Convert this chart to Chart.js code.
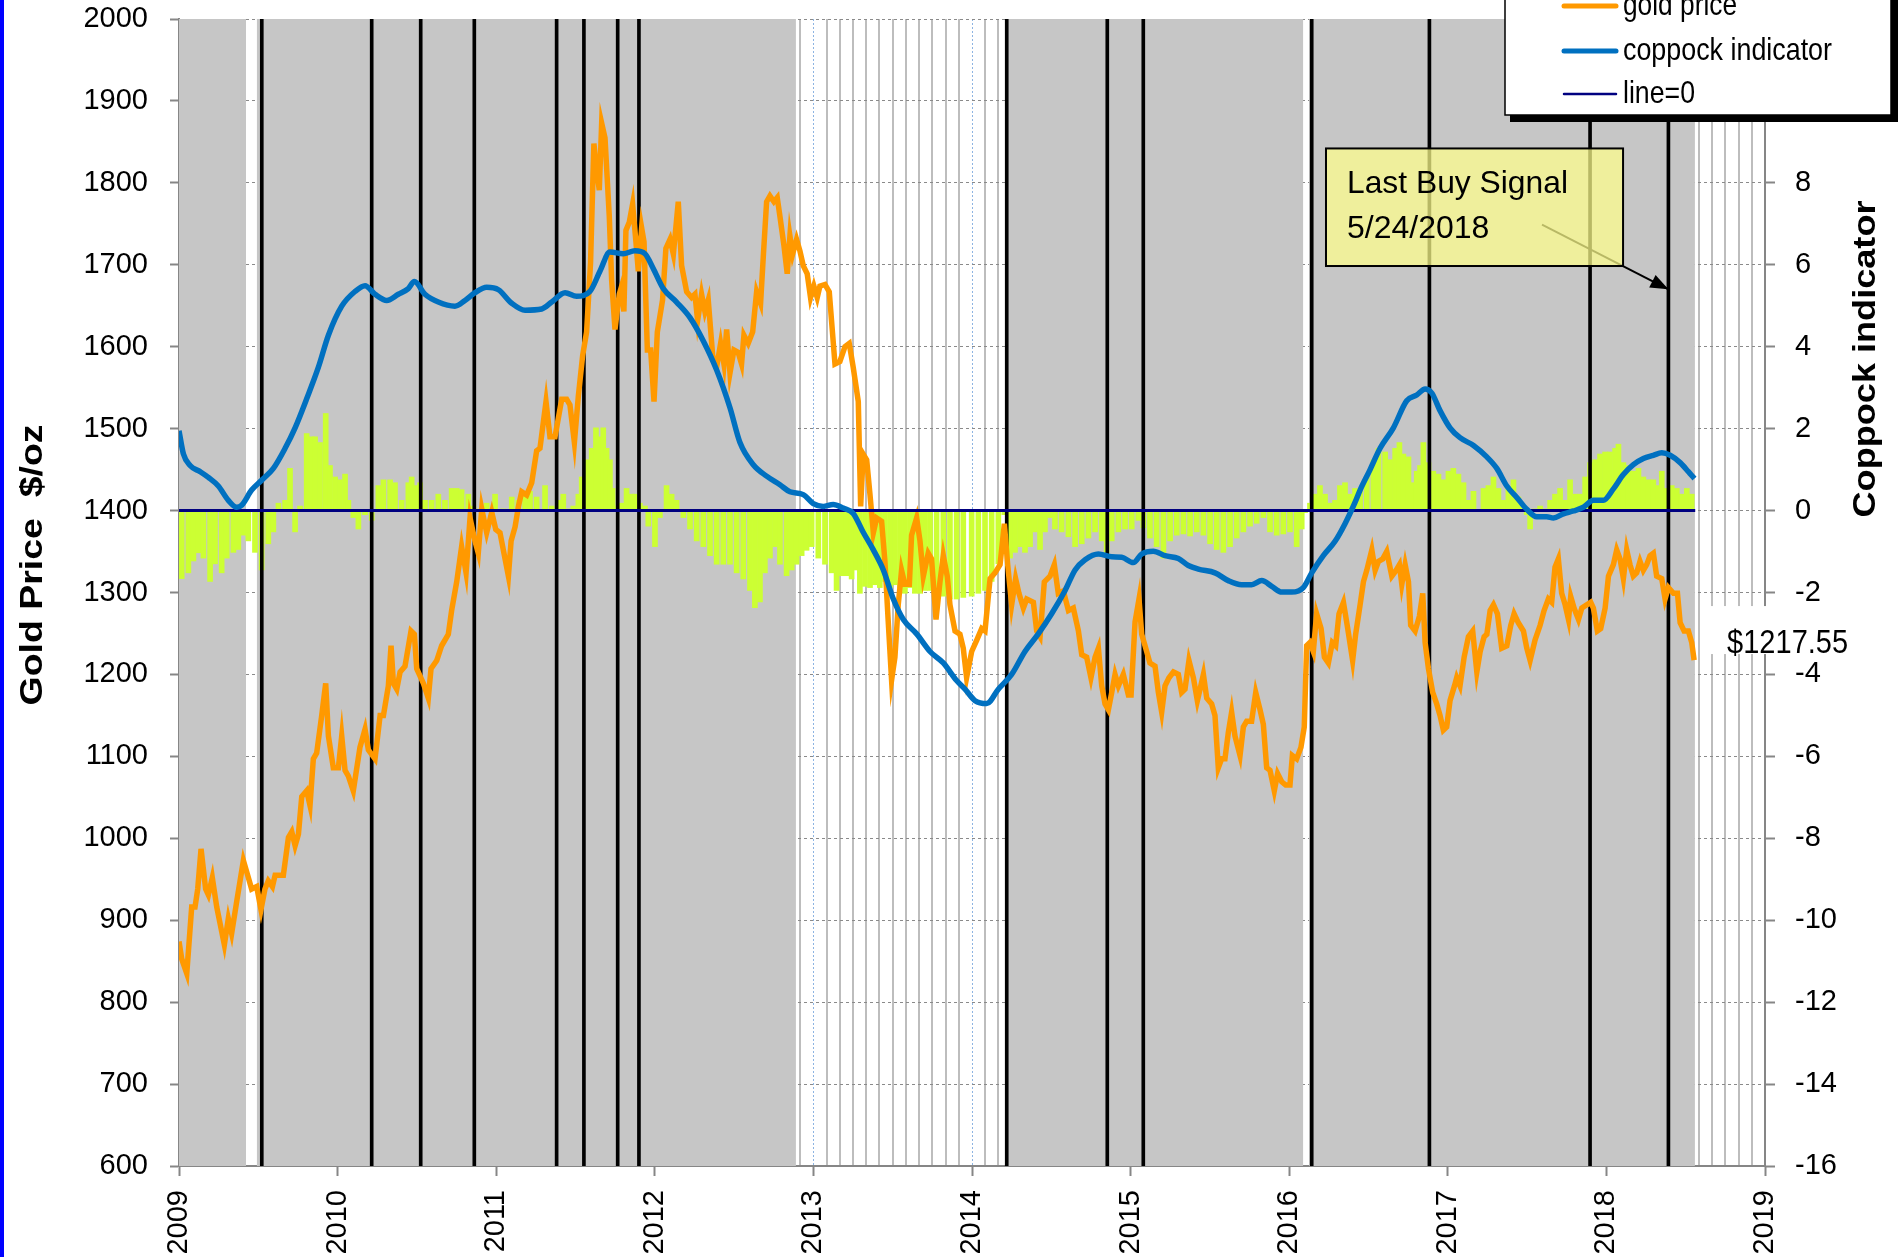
<!DOCTYPE html>
<html lang="en">
<head>
<meta charset="utf-8">
<title>Gold price and Coppock indicator</title>
<script src="https://cdn.jsdelivr.net/npm/chart.js@4.4.1/dist/chart.umd.min.js"></script>
<style>
  html, body { margin: 0; padding: 0; background: #ffffff; overflow: hidden; }
  canvas { display: block; }
</style>
</head>
<body>
<canvas id="goldChart" width="1898" height="1257"></canvas>
<script>
// gold price, $/oz (decimal year / price)
const goldDates = [
  2009.000, 2009.017, 2009.049, 2009.080, 2009.101, 2009.118, 2009.139, 2009.168,
  2009.185, 2009.210, 2009.238, 2009.286, 2009.311, 2009.332, 2009.364, 2009.406,
  2009.433, 2009.458, 2009.490, 2009.517, 2009.542, 2009.563, 2009.589, 2009.606,
  2009.658, 2009.690, 2009.711, 2009.732, 2009.753, 2009.774, 2009.805, 2009.826,
  2009.847, 2009.868, 2009.900, 2009.925, 2009.942, 2009.973, 2010.005, 2010.026,
  2010.047, 2010.068, 2010.099, 2010.141, 2010.173, 2010.194, 2010.236, 2010.268,
  2010.289, 2010.320, 2010.337, 2010.352, 2010.373, 2010.394, 2010.425, 2010.463,
  2010.484, 2010.499, 2010.541, 2010.572, 2010.589, 2010.625, 2010.656, 2010.698,
  2010.719, 2010.751, 2010.782, 2010.810, 2010.835, 2010.866, 2010.887, 2010.909,
  2010.940, 2010.972, 2010.997, 2011.024, 2011.056, 2011.077, 2011.094, 2011.119,
  2011.140, 2011.161, 2011.192, 2011.224, 2011.255, 2011.276, 2011.314, 2011.339,
  2011.371, 2011.413, 2011.444, 2011.465, 2011.493, 2011.518, 2011.545, 2011.570,
  2011.595, 2011.616, 2011.633, 2011.650, 2011.665, 2011.686, 2011.713, 2011.728,
  2011.749, 2011.776, 2011.791, 2011.805, 2011.818, 2011.839, 2011.860, 2011.881,
  2011.896, 2011.917, 2011.932, 2011.953, 2011.974, 2011.995, 2012.016, 2012.049,
  2012.070, 2012.096, 2012.117, 2012.148, 2012.169, 2012.201, 2012.232, 2012.253,
  2012.270, 2012.295, 2012.316, 2012.337, 2012.365, 2012.390, 2012.415, 2012.436,
  2012.453, 2012.474, 2012.499, 2012.526, 2012.547, 2012.562, 2012.589, 2012.617,
  2012.642, 2012.667, 2012.684, 2012.705, 2012.726, 2012.751, 2012.772, 2012.789,
  2012.814, 2012.835, 2012.852, 2012.869, 2012.894, 2012.915, 2012.936, 2012.961,
  2012.982, 2013.003, 2013.024, 2013.041, 2013.073, 2013.100, 2013.136, 2013.167,
  2013.199, 2013.226, 2013.251, 2013.283, 2013.298, 2013.314, 2013.336, 2013.357,
  2013.378, 2013.399, 2013.430, 2013.451, 2013.472, 2013.493, 2013.514, 2013.535,
  2013.556, 2013.577, 2013.605, 2013.619, 2013.651, 2013.672, 2013.693, 2013.724,
  2013.745, 2013.773, 2013.798, 2013.819, 2013.844, 2013.861, 2013.893, 2013.924,
  2013.945, 2013.966, 2013.998, 2014.030, 2014.061, 2014.082, 2014.114, 2014.145,
  2014.177, 2014.204, 2014.225, 2014.250, 2014.275, 2014.296, 2014.324, 2014.345,
  2014.387, 2014.408, 2014.429, 2014.456, 2014.492, 2014.519, 2014.544, 2014.576,
  2014.608, 2014.639, 2014.671, 2014.692, 2014.723, 2014.750, 2014.776, 2014.797,
  2014.818, 2014.839, 2014.860, 2014.881, 2014.902, 2014.923, 2014.954, 2014.986,
  2015.003, 2015.028, 2015.053, 2015.070, 2015.091, 2015.122, 2015.154, 2015.175,
  2015.196, 2015.217, 2015.242, 2015.270, 2015.301, 2015.322, 2015.343, 2015.368,
  2015.396, 2015.421, 2015.438, 2015.459, 2015.480, 2015.511, 2015.532, 2015.553,
  2015.574, 2015.595, 2015.616, 2015.637, 2015.658, 2015.690, 2015.711, 2015.732,
  2015.763, 2015.789, 2015.816, 2015.837, 2015.858, 2015.879, 2015.906, 2015.927,
  2015.953, 2015.978, 2016.005, 2016.020, 2016.047, 2016.074, 2016.095, 2016.110,
  2016.131, 2016.152, 2016.173, 2016.201, 2016.222, 2016.247, 2016.272, 2016.293,
  2016.314, 2016.342, 2016.369, 2016.400, 2016.419, 2016.447, 2016.468, 2016.489,
  2016.521, 2016.542, 2016.563, 2016.590, 2016.615, 2016.647, 2016.674, 2016.695,
  2016.710, 2016.731, 2016.752, 2016.766, 2016.794, 2016.821, 2016.842, 2016.857,
  2016.878, 2016.905, 2016.930, 2016.951, 2016.972, 2016.993, 2017.014, 2017.042,
  2017.056, 2017.077, 2017.103, 2017.130, 2017.157, 2017.183, 2017.204, 2017.229,
  2017.246, 2017.267, 2017.288, 2017.313, 2017.340, 2017.372, 2017.397, 2017.418,
  2017.445, 2017.477, 2017.498, 2017.519, 2017.550, 2017.582, 2017.607, 2017.634,
  2017.655, 2017.676, 2017.697, 2017.718, 2017.740, 2017.761, 2017.775, 2017.796,
  2017.824, 2017.845, 2017.876, 2017.901, 2017.918, 2017.943, 2017.964, 2017.992,
  2018.013, 2018.044, 2018.065, 2018.086, 2018.107, 2018.128, 2018.149, 2018.170,
  2018.191, 2018.212, 2018.233, 2018.254, 2018.275, 2018.296, 2018.317, 2018.349,
  2018.370, 2018.391, 2018.423, 2018.448, 2018.465, 2018.490, 2018.517, 2018.538,
  2018.553
];
const goldPrices = [
  874, 853, 835, 916, 916, 938, 987, 938,
  931, 952, 916, 870, 902, 884, 923, 973,
  955, 938, 941, 913, 938, 948, 941, 955,
  955, 1001, 1008, 991, 1005, 1051, 1058, 1040,
  1097, 1104, 1150, 1189, 1125, 1086, 1086, 1125,
  1083, 1076, 1058, 1111, 1133, 1108, 1097, 1150,
  1150, 1186, 1235, 1189, 1182, 1203, 1210, 1253,
  1249, 1207, 1189, 1171, 1207, 1217, 1235, 1249,
  1278, 1313, 1356, 1324, 1391, 1363, 1348, 1402,
  1373, 1398, 1377, 1373, 1341, 1320, 1363, 1380,
  1405, 1423, 1419, 1434, 1473, 1476, 1533, 1490,
  1490, 1536, 1536, 1529, 1483, 1540, 1589, 1618,
  1703, 1848, 1816, 1791, 1873, 1855, 1759, 1681,
  1621, 1664, 1674, 1643, 1742, 1752, 1774, 1728,
  1692, 1745, 1728, 1596, 1596, 1533, 1618, 1657,
  1720, 1731, 1713, 1777, 1699, 1667, 1660, 1664,
  1632, 1664, 1643, 1657, 1589, 1575, 1604, 1579,
  1621, 1568, 1596, 1593, 1579, 1614, 1604, 1618,
  1667, 1653, 1710, 1777, 1784, 1777, 1782, 1759,
  1724, 1689, 1735, 1713, 1731, 1717, 1699, 1689,
  1660, 1674, 1660, 1674, 1676, 1667, 1579, 1582,
  1600, 1604, 1575, 1533, 1405, 1469, 1462, 1419,
  1373, 1391, 1387, 1338, 1264, 1193, 1221, 1285,
  1327, 1310, 1310, 1370, 1391, 1363, 1320, 1348,
  1341, 1267, 1313, 1345, 1320, 1285, 1253, 1249,
  1232, 1196, 1228, 1242, 1256, 1253, 1317, 1324,
  1334, 1384, 1334, 1285, 1317, 1299, 1281, 1292,
  1288, 1253, 1246, 1313, 1320, 1334, 1299, 1302,
  1278, 1281, 1253, 1224, 1221, 1196, 1221, 1232,
  1186, 1164, 1157, 1178, 1200, 1186, 1200, 1175,
  1175, 1264, 1292, 1249, 1235, 1214, 1210, 1178,
  1154, 1186, 1196, 1203, 1200, 1178, 1182, 1217,
  1196, 1168, 1182, 1200, 1171, 1164, 1150, 1086,
  1097, 1097, 1129, 1154, 1125, 1101, 1136, 1143,
  1143, 1178, 1157, 1139, 1086, 1083, 1058, 1079,
  1069, 1065, 1065, 1101, 1097, 1111, 1136, 1235,
  1239, 1228, 1274, 1256, 1221, 1214, 1239, 1235,
  1274, 1288, 1256, 1217, 1249, 1285, 1313, 1327,
  1352, 1327, 1338, 1341, 1350, 1320, 1327, 1334,
  1310, 1334, 1313, 1260, 1253, 1271, 1299, 1239,
  1207, 1178, 1164, 1150, 1132, 1136, 1168, 1186,
  1196, 1186, 1221, 1246, 1253, 1203, 1228, 1246,
  1249, 1278, 1285, 1274, 1232, 1235, 1260, 1274,
  1263, 1253, 1232, 1217, 1242, 1260, 1278, 1292,
  1288, 1331, 1341, 1299, 1285, 1267, 1295, 1281,
  1267, 1281, 1285, 1288, 1281, 1253, 1256, 1281,
  1320, 1334, 1352, 1341, 1317, 1352, 1334, 1320,
  1324, 1338, 1327, 1334, 1345, 1348, 1320, 1317,
  1292, 1306, 1299, 1299, 1263, 1253, 1253, 1239,
  1217.55
];

// coppock indicator (right axis)
const coppockDates = [
  2009.000, 2009.028, 2009.070, 2009.133, 2009.185, 2009.248, 2009.311, 2009.364,
  2009.395, 2009.458, 2009.521, 2009.595, 2009.669, 2009.732, 2009.805, 2009.879,
  2009.942, 2010.026, 2010.110, 2010.173, 2010.236, 2010.310, 2010.383, 2010.446,
  2010.484, 2010.551, 2010.635, 2010.740, 2010.803, 2010.866, 2010.940, 2011.014,
  2011.098, 2011.182, 2011.287, 2011.350, 2011.434, 2011.507, 2011.591, 2011.654,
  2011.717, 2011.801, 2011.875, 2011.938, 2011.990, 2012.053, 2012.137, 2012.222,
  2012.306, 2012.390, 2012.474, 2012.537, 2012.621, 2012.705, 2012.789, 2012.852,
  2012.936, 2012.999, 2013.062, 2013.125, 2013.188, 2013.251, 2013.314, 2013.378,
  2013.441, 2013.504, 2013.567, 2013.651, 2013.735, 2013.819, 2013.903, 2013.956,
  2014.019, 2014.093, 2014.166, 2014.250, 2014.334, 2014.418, 2014.502, 2014.587,
  2014.650, 2014.713, 2014.797, 2014.881, 2014.944, 2015.017, 2015.070, 2015.143,
  2015.217, 2015.301, 2015.364, 2015.427, 2015.532, 2015.616, 2015.700, 2015.763,
  2015.827, 2015.890, 2015.953, 2016.016, 2016.089, 2016.142, 2016.215, 2016.289,
  2016.352, 2016.415, 2016.447, 2016.510, 2016.573, 2016.657, 2016.741, 2016.804,
  2016.857, 2016.899, 2016.951, 2017.014, 2017.077, 2017.162, 2017.246, 2017.309,
  2017.372, 2017.435, 2017.498, 2017.561, 2017.624, 2017.666, 2017.729, 2017.792,
  2017.855, 2017.918, 2017.981, 2018.044, 2018.107, 2018.170, 2018.233, 2018.296,
  2018.349, 2018.402, 2018.465, 2018.517, 2018.555
];
const coppockValues = [
  1.95, 1.38, 1.10, 0.95, 0.81, 0.60, 0.25, 0.08,
  0.13, 0.50, 0.74, 1.03, 1.52, 2.02, 2.73, 3.50,
  4.28, 4.99, 5.35, 5.49, 5.28, 5.13, 5.28, 5.42,
  5.59, 5.28, 5.09, 4.99, 5.13, 5.32, 5.45, 5.39,
  5.06, 4.89, 4.92, 5.09, 5.32, 5.23, 5.35, 5.84,
  6.31, 6.27, 6.34, 6.27, 5.91, 5.42, 5.09, 4.71,
  4.14, 3.43, 2.51, 1.66, 1.12, 0.84, 0.63, 0.46,
  0.39, 0.17, 0.10, 0.15, 0.06, -0.07, -0.53, -0.96,
  -1.45, -2.16, -2.66, -3.01, -3.44, -3.72, -4.15, -4.36,
  -4.64, -4.71, -4.36, -4.00, -3.44, -3.01, -2.52, -1.95,
  -1.45, -1.20, -1.06, -1.13, -1.14, -1.27, -1.06, -0.99,
  -1.10, -1.17, -1.34, -1.43, -1.52, -1.71, -1.81, -1.81,
  -1.71, -1.85, -1.99, -1.99, -1.88, -1.52, -1.10, -0.75,
  -0.32, 0.20, 0.50, 1.00, 1.52, 2.02, 2.68, 2.82,
  2.97, 2.87, 2.44, 2.02, 1.78, 1.59, 1.31, 1.03,
  0.60, 0.32, 0.03, -0.15, -0.15, -0.18, -0.08, -0.01,
  0.08, 0.25, 0.25, 0.53, 0.88, 1.12, 1.27, 1.35,
  1.41, 1.35, 1.17, 0.95, 0.78
];

// weekly change histogram (green bars), coppock units
const momentumDates = [
  2009.017, 2009.059, 2009.091, 2009.122, 2009.154, 2009.196, 2009.227, 2009.269,
  2009.301, 2009.343, 2009.374, 2009.406, 2009.437, 2009.479, 2009.521, 2009.563,
  2009.595, 2009.627, 2009.669, 2009.700, 2009.732, 2009.763, 2009.805, 2009.837,
  2009.858, 2009.889, 2009.925, 2009.952, 2009.984, 2010.015, 2010.047, 2010.068,
  2010.099, 2010.131, 2010.173, 2010.215, 2010.257, 2010.289, 2010.331, 2010.362,
  2010.404, 2010.446, 2010.467, 2010.488, 2010.520, 2010.551, 2010.593, 2010.635,
  2010.677, 2010.719, 2010.751, 2010.782, 2010.824, 2010.856, 2010.898, 2010.940,
  2010.993, 2011.045, 2011.098, 2011.140, 2011.182, 2011.213, 2011.255, 2011.308,
  2011.350, 2011.392, 2011.423, 2011.455, 2011.486, 2011.518, 2011.539, 2011.570,
  2011.602, 2011.629, 2011.654, 2011.675, 2011.696, 2011.717, 2011.734, 2011.759,
  2011.791, 2011.822, 2011.854, 2011.875, 2011.906, 2011.938, 2011.959, 2012.001,
  2012.032, 2012.074, 2012.106, 2012.137, 2012.180, 2012.222, 2012.264, 2012.306,
  2012.348, 2012.390, 2012.432, 2012.474, 2012.516, 2012.558, 2012.600, 2012.631,
  2012.663, 2012.694, 2012.726, 2012.758, 2012.789, 2012.831, 2012.863, 2012.894,
  2012.926, 2012.957, 2012.989, 2013.031, 2013.073, 2013.115, 2013.146, 2013.178,
  2013.209, 2013.241, 2013.272, 2013.293, 2013.325, 2013.357, 2013.388, 2013.419,
  2013.451, 2013.483, 2013.514, 2013.546, 2013.577, 2013.609, 2013.640, 2013.672,
  2013.703, 2013.735, 2013.777, 2013.819, 2013.861, 2013.903, 2013.945, 2013.998,
  2014.040, 2014.082, 2014.124, 2014.166, 2014.204, 2014.240, 2014.271, 2014.303,
  2014.334, 2014.366, 2014.397, 2014.429, 2014.460, 2014.492, 2014.523, 2014.565,
  2014.608, 2014.650, 2014.692, 2014.734, 2014.776, 2014.818, 2014.849, 2014.881,
  2014.923, 2014.965, 2015.007, 2015.049, 2015.080, 2015.122, 2015.164, 2015.207,
  2015.249, 2015.291, 2015.333, 2015.375, 2015.417, 2015.459, 2015.501, 2015.543,
  2015.585, 2015.627, 2015.669, 2015.711, 2015.753, 2015.795, 2015.837, 2015.879,
  2015.921, 2015.963, 2016.005, 2016.047, 2016.079, 2016.100, 2016.131, 2016.163,
  2016.194, 2016.226, 2016.257, 2016.289, 2016.320, 2016.352, 2016.384, 2016.415,
  2016.447, 2016.489, 2016.531, 2016.563, 2016.605, 2016.636, 2016.668, 2016.695,
  2016.720, 2016.752, 2016.779, 2016.804, 2016.825, 2016.846, 2016.878, 2016.909,
  2016.941, 2016.972, 2017.004, 2017.035, 2017.067, 2017.099, 2017.130, 2017.162,
  2017.193, 2017.225, 2017.256, 2017.288, 2017.319, 2017.351, 2017.382, 2017.414,
  2017.445, 2017.477, 2017.498, 2017.519, 2017.550, 2017.582, 2017.613, 2017.645,
  2017.676, 2017.708, 2017.740, 2017.771, 2017.803, 2017.834, 2017.866, 2017.897,
  2017.929, 2017.960, 2017.992, 2018.023, 2018.055, 2018.076, 2018.107, 2018.139,
  2018.170, 2018.202, 2018.233, 2018.265, 2018.296, 2018.328, 2018.349, 2018.380,
  2018.412, 2018.444, 2018.475, 2018.507, 2018.538
];
const momentumValues = [
  -1.66, -1.52, -1.23, -1.03, -1.16, -1.73, -1.30, -1.52,
  -1.16, -1.02, -0.95, -0.60, -0.74, -1.02, -1.45, -0.81,
  -0.52, 0.18, 0.25, 1.03, -0.52, 0.11, 1.88, 1.80,
  1.80, 1.66, 2.37, 1.10, 0.82, 0.75, 0.89, 0.25,
  -0.17, -0.45, -0.10, -0.24, 0.61, 0.75, 0.75, 0.68,
  0.25, 0.68, 0.82, 0.61, 0.68, 0.25, 0.25, 0.40,
  0.25, 0.54, 0.54, 0.51, 0.40, 0.11, 0.04, 0.18,
  0.40, 0.04, 0.33, 0.25, 0.40, 0.47, 0.33, 0.61,
  0.11, 0.25, 0.40, 0.04, 0.11, 0.40, 0.82, 1.24,
  1.52, 2.02, 1.80, 2.02, 1.52, 1.24, 0.54, 0.11,
  0.18, 0.54, 0.40, 0.40, 0.18, 0.11, -0.38, -0.88,
  -0.17, 0.61, 0.40, 0.25, -0.17, -0.45, -0.74, -0.88,
  -1.10, -1.31, -1.31, -1.31, -1.52, -1.67, -1.95, -2.37,
  -2.23, -1.52, -1.16, -0.88, -1.31, -1.59, -1.45, -1.31,
  -1.10, -0.97, -0.88, -1.16, -1.31, -1.52, -1.95, -1.59,
  -1.59, -1.67, -1.45, -2.02, -1.85, -1.88, -1.81, -1.88,
  -1.73, -1.88, -1.81, -1.88, -2.02, -1.88, -2.02, -2.02,
  -1.95, -1.95, -2.02, -2.09, -2.16, -2.16, -2.12, -2.09,
  -2.02, -1.95, -1.73, -1.30, -0.10, -1.16, -1.02, -0.88,
  -1.02, -0.88, -0.52, -0.95, -0.52, -0.17, -0.45, -0.52,
  -0.64, -0.88, -0.81, -0.67, -0.52, -0.74, -1.02, -0.74,
  -0.52, -0.45, -0.45, -0.24, -0.42, -0.67, -0.88, -1.16,
  -0.74, -0.60, -0.57, -0.62, -0.52, -0.60, -0.81, -0.95,
  -1.02, -0.88, -0.67, -0.52, -0.38, -0.31, -0.17, -0.52,
  -0.60, -0.57, -0.52, -0.88, -0.45, -0.05, 0.18, 0.40,
  0.61, 0.40, 0.18, 0.25, 0.61, 0.68, 0.40, 0.54,
  0.50, 0.81, 1.24, 1.52, 1.43, 1.24, 1.52, 1.66,
  1.38, 1.31, 0.68, 0.96, 1.10, 1.66, 1.17, 0.96,
  0.89, 0.75, 0.96, 1.03, 0.89, 0.68, 0.25, 0.47,
  0.02, 0.54, 0.61, 0.82, 0.54, 0.25, 0.54, 0.75,
  0.33, 0.11, -0.10, -0.45, 0.04, 0.11, 0.04, 0.25,
  0.40, 0.54, 0.25, 0.75, 0.40, 0.40, 0.82, 1.17,
  1.24, 1.38, 1.43, 1.43, 1.52, 1.62, 1.17, 1.10,
  0.96, 1.03, 0.82, 0.75, 0.75, 0.61, 0.96, 0.54,
  0.61, 0.54, 0.40, 0.54, 0.40
];

// buy / sell signal dates (black verticals)
const signalDates = [
  2009.522, 2010.215, 2010.524, 2010.862, 2011.381, 2011.553, 2011.766, 2011.900,
  2014.219, 2014.853, 2015.080, 2016.142, 2016.884, 2017.897, 2018.391
];

// periods shaded grey
const holdPeriods = [
  [2009.000, 2009.423], [2009.490, 2012.890], [2014.208, 2016.089], [2016.125, 2018.558]
];

const yearTicks = [2009, 2010, 2011, 2012, 2013, 2014, 2015, 2016, 2017, 2018, 2019];
const goldTicks = [600, 700, 800, 900, 1000, 1100, 1200, 1300, 1400, 1500, 1600, 1700, 1800, 1900, 2000];
const coppockTicks = [-16, -14, -12, -10, -8, -6, -4, -2, 0, 2, 4, 6, 8, 10, 12];
const zeroLineSpan = [2009.0, 2018.56];
const lastPrice = 1217.55;

// monthly grid positions
const monthLines = [];
for (let m = 0; m <= 120; m++) monthLines.push(2009 + m / 12);

// annotation box, in data units
const note = {
  lines: ['Last Buy Signal', '5/24/2018'],
  left: 2016.232, right: 2018.105, top: 1842, bottom: 1698.5,
  tail: [2017.594, 1749], tip: [2018.391, 1670]
};

function fontExists(name) {
  const c = document.createElement('canvas').getContext('2d');
  c.font = '40px monospace';
  const base = c.measureText('2000 coppock').width;
  c.font = '40px "' + name + '", monospace';
  return c.measureText('2000 coppock').width !== base;
}
const hasNarrow = fontExists('Liberation Sans Narrow');
const tickFont = hasNarrow
  ? { family: '"Liberation Sans Narrow", "Liberation Sans", Arial, sans-serif', size: 33 }
  : { family: '"Liberation Sans", Arial, sans-serif', size: 29 };
const textFamily = '"Liberation Sans", Arial, sans-serif';

const pts = (xs, ys) => xs.map((x, i) => ({ x: x, y: ys[i] }));

const greySets = holdPeriods.map(p => ({
  type: 'line',
  data: [{ x: p[0], y: 2000 }, { x: p[1], y: 2000 }],
  yAxisID: 'y',
  borderWidth: 0,
  pointRadius: 0,
  fill: 'start',
  backgroundColor: '#c6c6c6',
  order: 10
}));

// vertical axis title stretched or squeezed to a given length
function rotatedTitle(ctx, text, cx, cy, length) {
  ctx.save();
  ctx.translate(cx, cy);
  ctx.rotate(-Math.PI / 2);
  const w = ctx.measureText(text).width;
  ctx.scale(length / w, 1);
  ctx.fillText(text, 0, 0);
  ctx.restore();
}

const overlay = {
  id: 'overlay',
  afterDraw(chart) {
    const ctx = chart.ctx;
    const xs = chart.scales.x, ys = chart.scales.y;
    ctx.save();

    // left frame edge
    ctx.fillStyle = '#0000ff';
    ctx.fillRect(0, 0, 4, chart.height);

    // axis titles
    ctx.fillStyle = '#000';
    ctx.font = 'bold 31px ' + textFamily;
    ctx.textAlign = 'center';
    ctx.textBaseline = 'middle';
    rotatedTitle(ctx, 'Gold Price  $/oz', 33, 565, 281);
    rotatedTitle(ctx, 'Coppock indicator', 1866, 359, 317);

    // arrow to the last signal
    const tx = xs.getPixelForValue(note.tail[0]), ty = ys.getPixelForValue(note.tail[1]);
    const hx = xs.getPixelForValue(note.tip[0]), hy = ys.getPixelForValue(note.tip[1]);
    ctx.strokeStyle = '#000';
    ctx.lineWidth = 2;
    ctx.beginPath(); ctx.moveTo(tx, ty); ctx.lineTo(hx, hy); ctx.stroke();
    const a = Math.atan2(hy - ty, hx - tx);
    ctx.beginPath();
    ctx.moveTo(hx, hy);
    ctx.lineTo(hx - 18 * Math.cos(a) + 7 * Math.sin(a), hy - 18 * Math.sin(a) - 7 * Math.cos(a));
    ctx.lineTo(hx - 18 * Math.cos(a) - 7 * Math.sin(a), hy - 18 * Math.sin(a) + 7 * Math.cos(a));
    ctx.closePath();
    ctx.fillStyle = '#000';
    ctx.fill();

    // note box
    const bl = xs.getPixelForValue(note.left), br = xs.getPixelForValue(note.right);
    const bt = ys.getPixelForValue(note.top), bb = ys.getPixelForValue(note.bottom);
    ctx.fillStyle = 'rgba(255,255,140,0.72)';
    ctx.fillRect(bl, bt, br - bl, bb - bt);
    ctx.strokeRect(bl, bt, br - bl, bb - bt);
    ctx.fillStyle = '#000';
    ctx.font = '32px ' + textFamily;
    ctx.textAlign = 'left';
    ctx.textBaseline = 'alphabetic';
    ctx.fillText(note.lines[0], bl + 21, bt + 45, 221);
    ctx.fillText(note.lines[1], bl + 21, bt + 90, 158);

    // last price label
    const last = goldPrices.length - 1;
    const px = xs.getPixelForValue(goldDates[last]), py = ys.getPixelForValue(goldPrices[last]);
    ctx.fillStyle = '#fff';
    ctx.fillRect(px + 6, py - 54, 162, 48);
    ctx.fillStyle = '#000';
    ctx.font = '33px ' + textFamily;
    ctx.fillText('$' + lastPrice.toFixed(2), px + 33, py - 7, 121);

    // legend
    ctx.fillStyle = '#000';
    ctx.fillRect(1510, -10, 388, 132);
    ctx.fillStyle = '#fff';
    ctx.fillRect(1505, -10, 386, 125);
    ctx.lineWidth = 1.5;
    ctx.strokeStyle = '#000';
    ctx.strokeRect(1505, -10, 386, 125);
    const items = [
      ['gold price', '#ff9900', 5, 6, 114],
      ['coppock indicator', '#0070c0', 5, 51, 209],
      ['line=0', '#000080', 2.5, 94, 72]
    ];
    ctx.font = '32px ' + textFamily;
    items.forEach(it => {
      ctx.strokeStyle = it[1];
      ctx.lineWidth = it[2];
      ctx.lineCap = 'round';
      ctx.beginPath(); ctx.moveTo(1564, it[3]); ctx.lineTo(1616, it[3]); ctx.stroke();
      ctx.fillStyle = '#000';
      ctx.fillText(it[0], 1623, it[3] + 9, it[4]);
    });

    ctx.restore();
  }
};

const axisGrey = '#868686';

new Chart(document.getElementById('goldChart'), {
  type: 'line',
  data: {
    datasets: [
      ...greySets,
      {
        type: 'bar',
        label: 'momentum',
        data: pts(momentumDates, momentumValues),
        yAxisID: 'y2',
        backgroundColor: '#ccff33',
        borderWidth: 0,
        barThickness: 5,
        grouped: false,
        order: 8
      },
      {
        type: 'bar',
        label: 'signals',
        data: signalDates.map(d => ({ x: d, y: [600, 2000] })),
        yAxisID: 'y',
        backgroundColor: '#000000',
        borderWidth: 0,
        barThickness: 3,
        grouped: false,
        order: 6
      },
      {
        label: 'gold price',
        data: pts(goldDates, goldPrices),
        yAxisID: 'y',
        borderColor: '#ff9900',
        borderWidth: 5.5,
        pointRadius: 0,
        tension: 0,
        fill: false,
        order: 3
      },
      {
        label: 'line=0',
        data: zeroLineSpan.map(x => ({ x: x, y: 0 })),
        yAxisID: 'y2',
        borderColor: '#000080',
        borderWidth: 3,
        pointRadius: 0,
        fill: false,
        order: 2
      },
      {
        label: 'coppock indicator',
        data: pts(coppockDates, coppockValues),
        yAxisID: 'y2',
        borderColor: '#0070c0',
        borderWidth: 5.5,
        pointRadius: 0,
        cubicInterpolationMode: 'monotone',
        fill: false,
        order: 1
      }
    ]
  },
  options: {
    responsive: false,
    devicePixelRatio: 1,
    animation: false,
    events: [],
    layout: { padding: { top: 19, left: 0, right: 0, bottom: 0 } },
    plugins: {
      legend: { display: false },
      tooltip: { enabled: false }
    },
    scales: {
      x: {
        type: 'linear',
        position: 'bottom',
        min: 2009,
        max: 2019,
        offset: false,
        afterBuildTicks: s => { s.ticks = yearTicks.map(v => ({ value: v })); },
        afterFit: s => { s.height = 91; s.paddingLeft = 0; s.paddingRight = 0; },
        ticks: {
          autoSkip: false,
          minRotation: 90,
          maxRotation: 90,
          padding: 14,
          color: '#000',
          font: tickFont,
          callback: v => String(v)
        },
        grid: {
          color: '#8db4e2',
          lineWidth: 1,
          tickLength: 10,
          tickColor: axisGrey,
          tickWidth: 2,
          offset: false
        },
        border: { color: axisGrey, width: 2, dash: [2, 2] }
      },
      xm: {
        type: 'linear',
        position: 'bottom',
        min: 2009,
        max: 2019,
        offset: false,
        afterBuildTicks: s => { s.ticks = monthLines.map(v => ({ value: v })); },
        afterFit: s => { s.height = 0; },
        ticks: { display: false },
        grid: {
          color: c => (Math.abs(c.tick.value - Math.round(c.tick.value)) < 1e-6 ? 'rgba(0,0,0,0)' : '#bdbdbd'),
          lineWidth: 2,
          drawTicks: false,
          offset: false
        },
        border: { display: false }
      },
      y: {
        type: 'linear',
        position: 'left',
        min: 600,
        max: 2000,
        afterBuildTicks: s => { s.ticks = goldTicks.map(v => ({ value: v })); },
        afterFit: s => { s.width = 179; s.paddingTop = 0; s.paddingBottom = 0; },
        ticks: {
          padding: 22,
          color: '#000',
          font: tickFont,
          callback: v => String(v)
        },
        grid: {
          color: '#8a8a8a',
          lineWidth: 1,
          tickLength: 9,
          tickColor: axisGrey,
          tickWidth: 2
        },
        border: { color: axisGrey, width: 2, dash: [3, 3] }
      },
      y2: {
        type: 'linear',
        position: 'right',
        min: -16,
        max: 12,
        afterBuildTicks: s => { s.ticks = coppockTicks.map(v => ({ value: v })); },
        afterFit: s => { s.width = 133; s.paddingTop = 0; s.paddingBottom = 0; },
        ticks: {
          padding: 20,
          color: '#000',
          font: tickFont,
          callback: v => String(v)
        },
        grid: {
          drawOnChartArea: false,
          tickLength: 10,
          tickColor: axisGrey,
          tickWidth: 2
        },
        border: { color: axisGrey, width: 2 }
      }
    }
  },
  plugins: [overlay]
});
</script>
</body>
</html>
